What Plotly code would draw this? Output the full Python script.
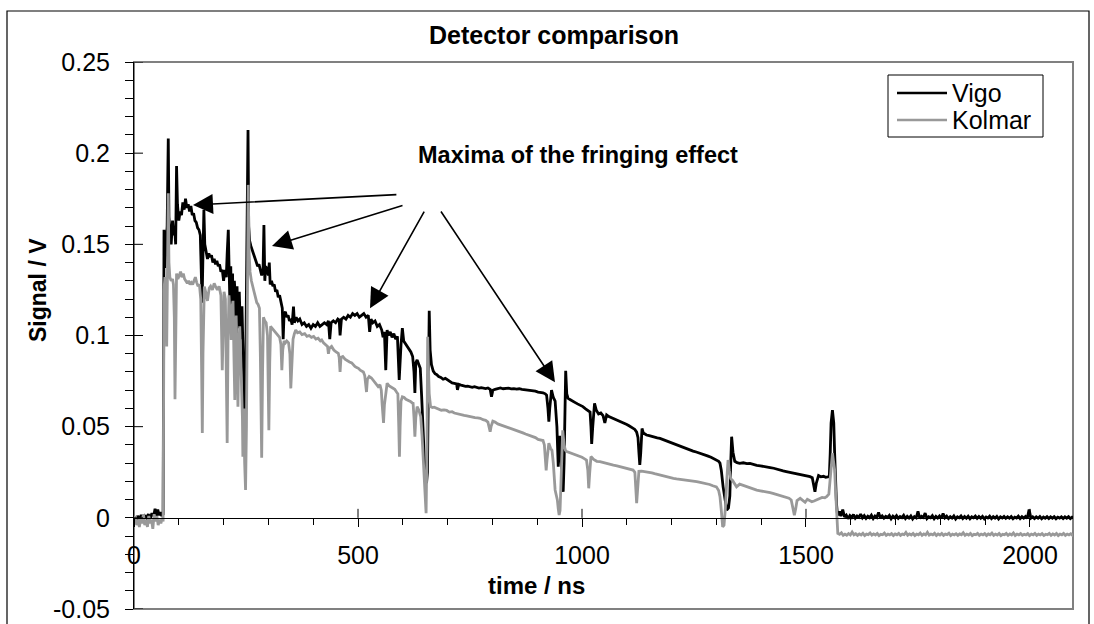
import plotly.graph_objects as go

# Detector signals (time in ns, signal in V)
vigo = [
    (0, 0.0005), (4, -0.0015), (8, 0.001), (12, -0.0005), (16, 0.0015), (20, -0.001), (24, 0.001),
    (28, 0.0), (32, 0.002), (36, -0.0005), (40, 0.0025), (44, 0.001), (47, 0.005), (50, 0.001),
    (53, 0.0045), (56, 0.0015), (59, 0.003), (62, 0.001), (65, 0.002),
    (67, 0.158), (69, 0.137), (72, 0.150), (74, 0.160), (76.5, 0.208), (78, 0.165), (80, 0.158),
    (83, 0.150), (86, 0.163), (89, 0.155), (91, 0.158), (93, 0.150), (95, 0.193), (97, 0.172),
    (100, 0.163), (103, 0.168), (106, 0.166), (109, 0.173), (112, 0.169), (115, 0.175), (118, 0.170),
    (121, 0.172), (124, 0.168), (127, 0.171), (130, 0.166), (133, 0.167), (136, 0.163), (139, 0.162),
    (142, 0.159), (145, 0.158), (148, 0.155), (150, 0.140), (152, 0.118), (154, 0.145), (156, 0.169),
    (158, 0.150), (161, 0.146), (164, 0.142), (167, 0.145), (170, 0.143), (173, 0.144), (176, 0.140),
    (179, 0.142), (182, 0.139), (185, 0.141), (188, 0.138), (191, 0.139), (194, 0.135), (197, 0.136),
    (200, 0.130), (203, 0.136), (206, 0.132), (208, 0.145), (210.5, 0.158), (212, 0.140), (214, 0.118),
    (216, 0.138), (218, 0.108), (220, 0.134), (222, 0.098), (224, 0.130), (226, 0.122), (228, 0.092),
    (230, 0.127), (232, 0.104), (235, 0.124), (238, 0.098), (241, 0.116), (244, 0.085), (246, 0.060),
    (248, 0.043), (250, 0.100), (252, 0.170), (254.5, 0.2127), (256, 0.160), (258, 0.152), (261, 0.149),
    (264, 0.147), (267, 0.145), (270, 0.142), (273, 0.140), (276, 0.138), (279, 0.139), (282, 0.136),
    (285, 0.133), (288, 0.135), (290, 0.1606), (292, 0.130), (294, 0.138), (297, 0.136), (300, 0.133),
    (302, 0.140), (304, 0.128), (307, 0.130), (310, 0.127), (313, 0.128), (316, 0.124), (319, 0.125),
    (322, 0.121), (325, 0.122), (328, 0.118), (331, 0.115), (333, 0.098), (335, 0.112), (338, 0.113),
    (341, 0.110), (344, 0.111), (347, 0.108), (350, 0.109), (353, 0.106), (356, 0.1158), (358, 0.107),
    (362, 0.110), (366, 0.108), (370, 0.109), (375, 0.106), (380, 0.107), (385, 0.105), (390, 0.106),
    (395, 0.104), (400, 0.106), (405, 0.105), (410, 0.107), (415, 0.105), (420, 0.106), (425, 0.107),
    (430, 0.106), (434, 0.108), (437, 0.098), (440, 0.107), (445, 0.108), (450, 0.107), (455, 0.109),
    (458, 0.1085), (460, 0.100), (463, 0.109), (468, 0.110), (473, 0.109), (478, 0.111), (483, 0.110),
    (488, 0.112), (493, 0.111), (498, 0.112), (503, 0.110), (508, 0.111), (513, 0.112), (518, 0.110),
    (523, 0.111), (526, 0.102), (529, 0.109), (533, 0.107), (538, 0.108), (543, 0.105), (548, 0.106),
    (553, 0.103), (556, 0.099), (559, 0.102), (562, 0.081), (565, 0.103), (568, 0.100), (572, 0.102),
    (576, 0.099), (580, 0.101), (584, 0.098), (588, 0.0995), (592, 0.0756), (596, 0.095), (599, 0.104),
    (602, 0.097), (606, 0.0955), (610, 0.094), (614, 0.092), (618, 0.091), (622, 0.0885), (625, 0.080),
    (627, 0.0685), (629, 0.085), (632, 0.0866), (636, 0.084), (639, 0.082), (642, 0.067), (645, 0.045),
    (648, 0.033), (651, 0.022), (653, 0.019), (655, 0.025), (657, 0.070), (659, 0.1136), (661, 0.092),
    (664, 0.084), (668, 0.0805), (672, 0.079), (676, 0.0785), (680, 0.0775), (685, 0.077), (690, 0.076),
    (695, 0.0765), (700, 0.0755), (705, 0.0748), (710, 0.074), (715, 0.0738), (720, 0.0735), (722, 0.0702),
    (725, 0.0732), (730, 0.0728), (735, 0.0723), (740, 0.0721), (745, 0.0722), (750, 0.0718), (755, 0.0716),
    (760, 0.0719), (765, 0.0714), (770, 0.0712), (775, 0.0714), (780, 0.0711), (785, 0.0709), (790, 0.0712),
    (795, 0.0705), (798, 0.0664), (801, 0.0700), (806, 0.0705), (812, 0.0709), (818, 0.0712), (824, 0.0708),
    (830, 0.0710), (836, 0.0711), (842, 0.0707), (848, 0.0709), (854, 0.0706), (860, 0.0708), (866, 0.0705),
    (872, 0.0703), (878, 0.0704), (884, 0.0700), (890, 0.0697), (896, 0.0695), (902, 0.0690), (908, 0.0688),
    (913, 0.0686), (918, 0.0680), (921, 0.0673), (924, 0.060), (926, 0.0527), (928, 0.060), (932, 0.0700),
    (936, 0.066), (940, 0.064), (944, 0.050), (947, 0.028), (950, 0.045), (953, 0.035), (956, 0.018),
    (958, 0.0143), (960, 0.030), (962, 0.070), (963.6, 0.0807), (966, 0.068), (969, 0.0655), (974, 0.0648),
    (980, 0.0637), (985, 0.0632), (990, 0.0625), (996, 0.0618), (1002, 0.061), (1008, 0.0598), (1014, 0.059),
    (1018, 0.058), (1020, 0.050), (1021.6, 0.0405), (1024, 0.050), (1028, 0.0628), (1032, 0.059),
    (1037, 0.057), (1042, 0.0575), (1047, 0.056), (1051, 0.052), (1055, 0.0564), (1060, 0.0555),
    (1065, 0.055), (1070, 0.0545), (1075, 0.054), (1080, 0.0535), (1085, 0.0527), (1090, 0.0522),
    (1095, 0.052), (1100, 0.0512), (1105, 0.0505), (1110, 0.0498), (1114, 0.049), (1118, 0.0485),
    (1122, 0.047), (1125, 0.044), (1127, 0.036), (1129, 0.029), (1131, 0.035), (1134, 0.049),
    (1137, 0.0465), (1144, 0.0454), (1150, 0.0451), (1156, 0.0446), (1162, 0.0442), (1168, 0.0439),
    (1174, 0.0436), (1180, 0.043), (1186, 0.0424), (1192, 0.0419), (1198, 0.0413), (1204, 0.0409),
    (1210, 0.0402), (1216, 0.0395), (1222, 0.0389), (1228, 0.0383), (1234, 0.0378), (1241, 0.0372),
    (1248, 0.0366), (1255, 0.0361), (1262, 0.0356), (1271, 0.035), (1280, 0.034), (1288, 0.0332),
    (1293, 0.0326), (1300, 0.0318), (1305, 0.031), (1308, 0.030), (1311, 0.026), (1315, 0.017),
    (1319, 0.009), (1323, 0.0043), (1327, 0.0055), (1330, 0.012), (1332, 0.030), (1334, 0.0445),
    (1337, 0.036), (1341, 0.031), (1346, 0.0303), (1352, 0.0299), (1360, 0.0302), (1368, 0.0297),
    (1375, 0.0299), (1383, 0.0291), (1390, 0.0288), (1398, 0.0285), (1405, 0.0283), (1412, 0.0281),
    (1420, 0.0276), (1428, 0.0272), (1435, 0.0266), (1442, 0.0262), (1449, 0.0258), (1456, 0.0254),
    (1464, 0.0250), (1471, 0.0247), (1478, 0.0243), (1487, 0.0240), (1494, 0.0236), (1501, 0.0233),
    (1509, 0.0226), (1514, 0.0220), (1517, 0.0180), (1520, 0.0143), (1523, 0.0190), (1528, 0.0232),
    (1533, 0.0225), (1539, 0.0228), (1544, 0.0222), (1549, 0.0227), (1552, 0.0226), (1554, 0.035),
    (1556, 0.052), (1559, 0.0591), (1562, 0.052), (1564, 0.035), (1566, 0.018), (1568, 0.008),
    (1570, 0.0025), (1573, 0.0015), (1575, 0.0035),
    (1578, 0.0010), (1582, 0.0045), (1586, 0.0005), (1590, 0.0015), (1594, -0.0005), (1598, 0.0012),
    (1602, 0.0002), (1606, 0.0018), (1610, -0.0002), (1614, 0.0010), (1618, 0.0003), (1622, 0.0020),
    (1626, 0.0000), (1630, 0.0012), (1634, -0.0003), (1638, 0.0009), (1642, 0.0001), (1646, 0.0015),
    (1650, -0.0004), (1654, 0.0010), (1658, 0.0002), (1662, 0.0030), (1666, 0.0000), (1670, 0.0011),
    (1674, -0.0002), (1678, 0.0008), (1682, 0.0002), (1686, 0.0013), (1690, -0.0005), (1694, 0.0009),
    (1698, 0.0000), (1702, 0.0012), (1706, -0.0003), (1710, 0.0007), (1714, 0.0001), (1718, 0.0014),
    (1722, -0.0004), (1726, 0.0008), (1730, -0.0001), (1734, 0.0011), (1738, -0.0006), (1742, 0.0007),
    (1746, 0.0000), (1750, 0.0035), (1754, -0.0003), (1758, 0.0008), (1762, 0.0002), (1766, 0.0026),
    (1770, -0.0004), (1774, 0.0006), (1778, 0.0001), (1782, 0.0012), (1786, -0.0005), (1790, 0.0008),
    (1794, -0.0001), (1798, 0.0010), (1802, -0.0003), (1806, 0.0024), (1810, 0.0000), (1814, 0.0009),
    (1818, -0.0004), (1822, 0.0007), (1826, -0.0001), (1830, 0.0011), (1834, -0.0006), (1838, 0.0006),
    (1842, 0.0000), (1846, 0.0010), (1850, -0.0004), (1854, 0.0007), (1858, -0.0002), (1862, 0.0009),
    (1866, -0.0005), (1870, 0.0006), (1874, 0.0000), (1878, 0.0010), (1882, -0.0003), (1886, 0.0007),
    (1890, -0.0002), (1894, 0.0008), (1898, -0.0005), (1902, 0.0005), (1906, -0.0001), (1910, 0.0009),
    (1914, -0.0004), (1918, 0.0006), (1922, -0.0002), (1926, 0.0008), (1930, -0.0006), (1934, 0.0005),
    (1938, -0.0001), (1942, 0.0008), (1946, -0.0003), (1950, 0.0006), (1954, -0.0002), (1958, 0.0007),
    (1962, -0.0005), (1966, 0.0004), (1970, -0.0001), (1974, 0.0009), (1978, -0.0004), (1982, 0.0006),
    (1986, -0.0002), (1990, 0.0007), (1994, -0.0003), (1998, 0.0045), (2002, -0.0001), (2006, 0.0006),
    (2010, -0.0004), (2014, 0.0005), (2018, -0.0002), (2022, 0.0007), (2026, -0.0005), (2030, 0.0004),
    (2034, -0.0002), (2038, 0.0006), (2042, -0.0004), (2046, 0.0005), (2050, -0.0002), (2054, 0.0006),
    (2058, -0.0005), (2062, 0.0004), (2066, -0.0001), (2070, 0.0006), (2074, -0.0004), (2078, 0.0005),
    (2082, -0.0002), (2086, 0.0006), (2090, -0.0004), (2094, 0.0004), (2098, -0.0002), (2100, 0.0003),
]

kolmar = [
    (0, -0.002), (3, 0.001), (6, -0.004), (9, -0.001), (12, -0.005), (15, 0.000), (18, -0.003),
    (21, 0.002), (24, -0.004), (27, -0.001), (30, -0.005), (33, 0.001), (36, -0.003), (39, -0.001),
    (42, -0.006), (45, 0.002), (48, -0.002), (51, 0.001), (54, -0.004), (57, -0.001), (60, -0.003),
    (63, 0.000), (65, -0.002),
    (67, 0.125), (69, 0.132), (71, 0.130), (73, 0.094), (75, 0.150), (76.5, 0.178), (78, 0.140),
    (80, 0.132), (83, 0.130), (86, 0.131), (88, 0.128), (90, 0.110), (91.5, 0.065), (93, 0.110),
    (95, 0.134), (98, 0.131), (101, 0.133), (104, 0.135), (107, 0.132), (110, 0.134), (113, 0.131),
    (116, 0.130), (119, 0.1286), (122, 0.130), (125, 0.128), (128, 0.129), (131, 0.128), (134, 0.130),
    (137, 0.132), (140, 0.129), (143, 0.127), (146, 0.128), (149, 0.120), (151, 0.080), (152.5, 0.0465),
    (154, 0.090), (157, 0.1268), (160, 0.124), (164, 0.119), (168, 0.126), (171, 0.127), (175, 0.125),
    (179, 0.1286), (182, 0.127), (186, 0.125), (190, 0.127), (194, 0.122), (197, 0.081), (199, 0.115),
    (201, 0.124), (204, 0.120), (206, 0.090), (208, 0.041), (210, 0.100), (212, 0.122), (215, 0.110),
    (217, 0.0975), (219, 0.116), (221, 0.119), (223, 0.090), (225, 0.0646), (227, 0.100), (228, 0.111),
    (230, 0.090), (232, 0.061), (234, 0.095), (236, 0.105), (238, 0.090), (240, 0.0756), (242, 0.055),
    (243, 0.0335), (245, 0.060), (247, 0.030), (249, 0.0153), (251, 0.050), (252, 0.090), (253.5, 0.150),
    (255, 0.1826), (257, 0.145), (259, 0.135), (262, 0.130), (265, 0.126), (268, 0.124), (271, 0.121),
    (274, 0.118), (277, 0.117), (280, 0.115), (282, 0.090), (283.5, 0.050), (285, 0.033), (287, 0.080),
    (289, 0.110), (292, 0.108), (295, 0.107), (298, 0.100), (300, 0.070), (301, 0.048), (303, 0.085),
    (305, 0.105), (308, 0.104), (311, 0.103), (315, 0.102), (318, 0.101), (321, 0.100), (325, 0.099),
    (328, 0.095), (330, 0.081), (332, 0.092), (335, 0.097), (338, 0.096), (341, 0.097), (345, 0.096),
    (348, 0.090), (350, 0.071), (352, 0.085), (355, 0.098), (358, 0.101), (361, 0.103), (365, 0.1015),
    (370, 0.102), (375, 0.1005), (381, 0.101), (386, 0.0995), (391, 0.100), (396, 0.099), (401, 0.0995),
    (406, 0.098), (411, 0.0985), (416, 0.097), (419, 0.0975), (423, 0.096), (428, 0.095), (432, 0.094),
    (434, 0.090), (436, 0.093), (441, 0.094), (446, 0.092), (451, 0.091), (456, 0.0902), (458, 0.088),
    (460, 0.080), (462, 0.088), (466, 0.0885), (471, 0.087), (476, 0.086), (481, 0.0855), (486, 0.085),
    (490, 0.0838), (493, 0.083), (497, 0.0825), (501, 0.082), (505, 0.081), (509, 0.0805), (512, 0.080),
    (515, 0.078), (517, 0.074), (519, 0.069), (521, 0.076), (525, 0.0775), (530, 0.0767), (535, 0.075),
    (540, 0.0735), (545, 0.072), (549, 0.073), (552, 0.070), (554, 0.062), (557, 0.052), (559, 0.062),
    (562, 0.070), (565, 0.0738), (569, 0.0725), (573, 0.072), (578, 0.071), (582, 0.0705), (586, 0.069),
    (589, 0.068), (591, 0.050), (592.5, 0.0335), (594, 0.050), (596, 0.064), (599, 0.0664), (603, 0.066),
    (607, 0.065), (612, 0.0646), (617, 0.0638), (621, 0.063), (623, 0.0628), (625, 0.055), (627, 0.0445),
    (629, 0.055), (632, 0.061), (636, 0.059), (640, 0.0555), (643, 0.045), (646, 0.028), (649, 0.012),
    (652, 0.0025), (654, 0.040), (655.5, 0.0993), (657, 0.085), (659, 0.068), (662, 0.061), (666, 0.0605),
    (670, 0.0607), (676, 0.060), (681, 0.0598), (686, 0.059), (692, 0.0592), (698, 0.0589), (704, 0.058),
    (710, 0.0582), (715, 0.0575), (720, 0.0573), (726, 0.0568), (731, 0.0565), (737, 0.0562), (743, 0.0559),
    (749, 0.0555), (755, 0.0553), (761, 0.055), (767, 0.0548), (773, 0.0546), (779, 0.0538), (785, 0.0535),
    (790, 0.0525), (793, 0.050), (795, 0.0472), (797, 0.050), (801, 0.053), (806, 0.0525), (812, 0.0515),
    (818, 0.051), (824, 0.0505), (832, 0.050), (838, 0.0495), (844, 0.049), (850, 0.0482), (856, 0.0478),
    (862, 0.0472), (868, 0.0466), (874, 0.046), (880, 0.0455), (886, 0.045), (891, 0.0445), (896, 0.044),
    (902, 0.043), (906, 0.0427), (910, 0.0425), (913, 0.0424), (916, 0.040), (918, 0.032), (920, 0.026),
    (922, 0.032), (926, 0.0409), (930, 0.038), (933, 0.037), (936, 0.030), (940, 0.0153), (943, 0.012),
    (945, 0.0098), (947, 0.005), (949, 0.0015), (951, 0.004), (953, 0.020), (955, 0.040), (957, 0.048),
    (960, 0.040), (963, 0.037), (966, 0.0363), (972, 0.0358), (978, 0.0352), (983, 0.0348), (988, 0.0345),
    (994, 0.034), (1000, 0.0332), (1005, 0.0325), (1010, 0.0317), (1013, 0.026), (1015, 0.0162),
    (1017, 0.024), (1020, 0.0336), (1026, 0.032), (1033, 0.031), (1040, 0.0308), (1047, 0.0303),
    (1055, 0.0299), (1062, 0.0294), (1070, 0.0289), (1078, 0.0285), (1085, 0.028), (1092, 0.0276),
    (1099, 0.0272), (1107, 0.0268), (1114, 0.0262), (1118, 0.025), (1120, 0.018), (1122, 0.008),
    (1124, 0.015), (1127, 0.0255), (1133, 0.0256), (1139, 0.0254), (1144, 0.0253), (1150, 0.025),
    (1156, 0.0246), (1162, 0.0242), (1168, 0.0238), (1174, 0.0235), (1180, 0.0231), (1186, 0.0228),
    (1192, 0.0224), (1198, 0.022), (1204, 0.0217), (1211, 0.0214), (1218, 0.0212), (1226, 0.0210),
    (1234, 0.0209), (1241, 0.0207), (1248, 0.0203), (1256, 0.0199), (1264, 0.0195), (1271, 0.0192),
    (1278, 0.019), (1285, 0.0183), (1292, 0.0176), (1300, 0.017), (1305, 0.015), (1308, 0.0116),
    (1311, 0.004), (1314, -0.0049), (1317, -0.004), (1320, 0.005), (1323, 0.020), (1326, 0.0317),
    (1329, 0.026), (1332, 0.0215), (1336, 0.0205), (1340, 0.019), (1345, 0.017), (1352, 0.0185),
    (1360, 0.0178), (1368, 0.0172), (1375, 0.0162), (1383, 0.0158), (1390, 0.0152), (1398, 0.0148),
    (1405, 0.0146), (1412, 0.0143), (1420, 0.0138), (1428, 0.0133), (1435, 0.0128), (1442, 0.0121),
    (1449, 0.0116), (1456, 0.0112), (1462, 0.0108), (1467, 0.0098), (1471, 0.0060), (1474, 0.0015),
    (1477, 0.0050), (1480, 0.0095), (1487, 0.0107), (1493, 0.0092), (1498, 0.0085), (1503, 0.0102),
    (1508, 0.0095), (1513, 0.0088), (1518, 0.0092), (1524, 0.0098), (1530, 0.0107), (1536, 0.0112),
    (1542, 0.0110), (1546, 0.0116), (1551, 0.0130), (1554, 0.022), (1556, 0.0262), (1559, 0.0354),
    (1562, 0.030), (1564, 0.0262), (1566, 0.015), (1568, 0.002), (1571, -0.0085),
    (1575, -0.0090), (1579, -0.0082), (1583, -0.0096), (1587, -0.0089), (1591, -0.0095), (1595, -0.0086),
    (1599, -0.0094), (1603, -0.0078), (1607, -0.0093), (1611, -0.0087), (1615, -0.0096), (1619, -0.0088),
    (1623, -0.0094), (1627, -0.0085), (1631, -0.0097), (1635, -0.0089), (1639, -0.0092), (1643, -0.0083),
    (1647, -0.0095), (1651, -0.0088), (1655, -0.0094), (1659, -0.0086), (1663, -0.0097), (1667, -0.0090),
    (1671, -0.0093), (1675, -0.0084), (1679, -0.0096), (1683, -0.0089), (1687, -0.0094), (1691, -0.0087),
    (1695, -0.0097), (1699, -0.0088), (1703, -0.0093), (1707, -0.0085), (1711, -0.0096), (1715, -0.0089),
    (1719, -0.0092), (1723, -0.0080), (1727, -0.0095), (1731, -0.0088), (1735, -0.0094), (1739, -0.0086),
    (1743, -0.0097), (1747, -0.0089), (1751, -0.0093), (1755, -0.0084), (1759, -0.0096), (1763, -0.0088),
    (1767, -0.0094), (1771, -0.0079), (1775, -0.0095), (1779, -0.0089), (1783, -0.0093), (1787, -0.0085),
    (1791, -0.0097), (1795, -0.0088), (1799, -0.0094), (1803, -0.0086), (1807, -0.0096), (1811, -0.0089),
    (1815, -0.0092), (1819, -0.0084), (1823, -0.0097), (1827, -0.0089), (1831, -0.0094), (1835, -0.0087),
    (1839, -0.0096), (1843, -0.0088), (1847, -0.0093), (1851, -0.0082), (1855, -0.0096), (1859, -0.0089),
    (1863, -0.0094), (1867, -0.0086), (1871, -0.0097), (1875, -0.0090), (1879, -0.0093), (1883, -0.0085),
    (1887, -0.0096), (1891, -0.0089), (1895, -0.0094), (1899, -0.0087), (1903, -0.0097), (1907, -0.0088),
    (1911, -0.0093), (1915, -0.0084), (1919, -0.0096), (1923, -0.0089), (1927, -0.0094), (1931, -0.0086),
    (1935, -0.0097), (1939, -0.0090), (1943, -0.0093), (1947, -0.0085), (1951, -0.0096), (1955, -0.0088),
    (1959, -0.0094), (1963, -0.0083), (1967, -0.0097), (1971, -0.0089), (1975, -0.0093), (1979, -0.0086),
    (1983, -0.0096), (1987, -0.0090), (1991, -0.0094), (1995, -0.0087), (1999, -0.0097), (2003, -0.0089),
    (2007, -0.0093), (2011, -0.0085), (2015, -0.0096), (2019, -0.0089), (2023, -0.0094), (2027, -0.0087),
    (2031, -0.0097), (2035, -0.0090), (2039, -0.0093), (2043, -0.0085), (2047, -0.0096), (2051, -0.0088),
    (2055, -0.0094), (2059, -0.0086), (2063, -0.0097), (2067, -0.0089), (2071, -0.0093), (2075, -0.0085),
    (2079, -0.0096), (2083, -0.0089), (2087, -0.0094), (2091, -0.0087), (2095, -0.0096), (2100, -0.0090),
]

vigo_time = [p[0] for p in vigo]
vigo_signal = [p[1] for p in vigo]
kolmar_time = [p[0] for p in kolmar]
kolmar_signal = [p[1] for p in kolmar]

series_names = ["Vigo", "Kolmar"]
series_colors = ["#000000", "#999999"]

x_ticks = [0, 500, 1000, 1500, 2000]
y_ticks = [-0.05, 0, 0.05, 0.1, 0.15, 0.2, 0.25]
y_tick_text = ["-0.05", "0", "0.05", "0.1", "0.15", "0.2", "0.25"]

# Arrow heads (time, signal) and tails pointing to the fringing maxima
arrow_heads = [(131.7, 0.1716), (308.0, 0.1491), (526.8, 0.1149), (939.7, 0.0743)]
arrow_tails = [(589.0, 0.1773), (602.7, 0.1716), (649.6, 0.1688), (683.0, 0.1688)]
note_text = "Maxima of the fringing effect"
note_pos = (990, 0.199)

X_RANGE = [0, 2096]
Y_RANGE = [-0.05, 0.25]
FONT = "Liberation Sans, Arial, sans-serif"
LINE_W = 2.8

# plot area in pixels
PL, PR, PT, PB = 134, 1073, 62, 609
PW, PH = PR - PL, PB - PT


def px_x(px):
    return (px - PL) / PW


def px_y(py):
    return (PB - py) / PH


fig = go.Figure()
fig.add_trace(go.Scatter(x=vigo_time, y=vigo_signal, mode="lines", name=series_names[0],
                         line=dict(color=series_colors[0], width=LINE_W), showlegend=False))
fig.add_trace(go.Scatter(x=kolmar_time, y=kolmar_signal, mode="lines", name=series_names[1],
                         line=dict(color=series_colors[1], width=LINE_W), showlegend=False))

# x axis sits on the zero line
zero_pos = (0 - Y_RANGE[0]) / (Y_RANGE[1] - Y_RANGE[0])

fig.update_layout(
    width=1094, height=624, autosize=False,
    margin=dict(l=PL, r=1094 - PR, t=PT, b=624 - PB, autoexpand=False),
    paper_bgcolor="white", plot_bgcolor="white",
    font=dict(family=FONT, size=25, color="black"),
    title=dict(text="<b>Detector comparison</b>", x=554 / 1094, xanchor="center",
               y=1 - 35 / 624, yanchor="middle", font=dict(size=25)),
    showlegend=False,
    xaxis=dict(range=X_RANGE, tickmode="array", tickvals=x_ticks, ticks="outside",
               ticklen=8, tickwidth=1, tickcolor="black", showline=True, linecolor="black",
               linewidth=1, showgrid=False, zeroline=False, anchor="free", position=zero_pos,
               ticklabelstandoff=7, automargin=False, tickfont=dict(size=25),
               minor=dict(dtick=100, tick0=0, ticks="outside", ticklen=6, tickcolor="black",
                          showgrid=False)),
    yaxis=dict(range=Y_RANGE, tickmode="array", tickvals=y_ticks, ticktext=y_tick_text,
               ticks="outside", ticklen=8, tickwidth=1, tickcolor="black", showline=True,
               linecolor="black", linewidth=1, showgrid=False, zeroline=False,
               ticklabelstandoff=10, automargin=False, tickfont=dict(size=25),
               minor=dict(dtick=0.01, tick0=0, ticks="outside", ticklen=8, tickcolor="black",
                          showgrid=False)),
)

shapes = []
# plot area frame
shapes.append(dict(type="rect", xref="paper", yref="paper", x0=0, x1=1, y0=0, y1=1,
                   line=dict(color="#808080", width=2), layer="below"))
# outer chart frame
shapes.append(dict(type="rect", xref="paper", yref="paper",
                   x0=px_x(7), x1=px_x(1089), y0=px_y(640), y1=px_y(11),
                   line=dict(color="black", width=1.2), layer="below"))
# major ticks crossing into the plot
for xv in x_ticks[1:]:
    shapes.append(dict(type="line", xref="x", yref="paper", x0=xv, x1=xv,
                       y0=zero_pos, y1=zero_pos + 9 / PH, line=dict(color="black", width=1)))
for yv in y_ticks:
    shapes.append(dict(type="line", xref="paper", yref="y", x0=0, x1=9 / PW,
                       y0=yv, y1=yv, line=dict(color="black", width=1)))

# legend box with line samples
shapes.append(dict(type="rect", xref="paper", yref="paper",
                   x0=px_x(888), x1=px_x(1043), y0=px_y(137), y1=px_y(75),
                   line=dict(color="black", width=1), fillcolor="white"))
legend_rows = [93, 120]
for name, color, row in zip(series_names, series_colors, legend_rows):
    shapes.append(dict(type="line", xref="paper", yref="paper",
                       x0=px_x(897), x1=px_x(947), y0=px_y(row), y1=px_y(row),
                       line=dict(color=color, width=2.4)))
fig.update_layout(shapes=shapes)

annotations = [
    dict(text="<b>time / ns</b>", xref="paper", yref="paper",
         x=px_x(536), y=px_y(585), showarrow=False,
         xanchor="center", yanchor="middle", font=dict(size=24)),
    dict(text="<b>Signal / V</b>", xref="paper", yref="paper",
         x=px_x(38), y=px_y(290), showarrow=False, textangle=-90,
         xanchor="center", yanchor="middle", font=dict(size=23)),
    dict(text="<b>" + note_text + "</b>", x=note_pos[0], y=note_pos[1], xref="x", yref="y",
         showarrow=False, xanchor="center", yanchor="middle", font=dict(size=23.5)),
]
for name, row in zip(series_names, legend_rows):
    annotations.append(dict(text=name, xref="paper", yref="paper", x=px_x(950), y=px_y(row),
                            xanchor="left", yanchor="middle", showarrow=False,
                            font=dict(size=25)))
for (hx, hy), (tx, ty) in zip(arrow_heads, arrow_tails):
    annotations.append(dict(text="", x=hx, y=hy, xref="x", yref="y", ax=tx, ay=ty,
                            axref="x", ayref="y", showarrow=True, arrowhead=2,
                            arrowsize=2.5, arrowwidth=1.6, arrowcolor="black", standoff=0))
fig.update_layout(annotations=annotations)

fig.write_html("out.html")
